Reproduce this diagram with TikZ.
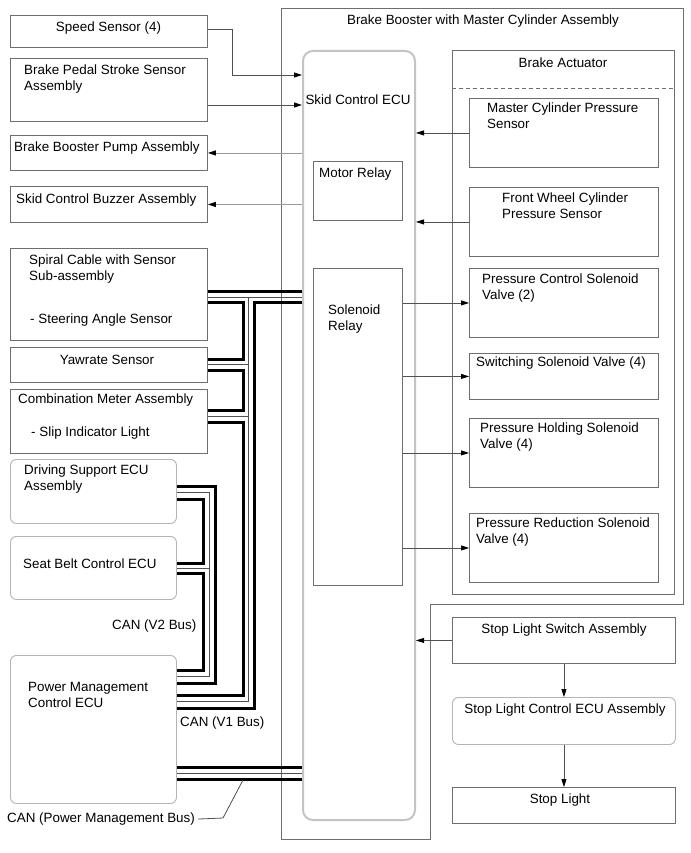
\documentclass[tikz,border=0pt]{standalone}
\usepackage{fontspec}
\setmainfont{Liberation Sans}
\usetikzlibrary{arrows.meta}
\definecolor{dg}{HTML}{6E6E6E}
\definecolor{lg}{HTML}{B4B4B4}
\definecolor{eg}{HTML}{C4C4C4}
\definecolor{al}{HTML}{505050}
\definecolor{al2}{HTML}{9A9A9A}
\definecolor{tl}{HTML}{505050}
\tikzset{
  box/.style={draw=dg, line width=0.9pt, rectangle, inner sep=0pt, anchor=north west},
  rbox/.style={box, draw=lg, rounded corners=6pt},
  ecubox/.style={box, draw=eg, line width=2pt, rounded corners=10pt},
  txt/.style={inner sep=0pt, anchor=base west, align=left, font=\fontsize{13.4}{16}\selectfont},
  ctxt/.style={txt, anchor=base, align=center},
  arr/.style={draw=al, line width=0.8pt, -{Triangle[length=8pt,width=5pt,color=black]}},
  arrl/.style={arr, draw=al2},
  busB/.style={draw=black, line width=3pt},
  busT/.style={draw=tl, line width=0.9pt},
}
\newcommand\bx[6]{\node[#1, minimum width=#4pt, minimum height=#5pt] (#6) at (#2,#3) {};}
\begin{document}
\begin{tikzpicture}[x=1pt, y=-1pt]
\useasboundingbox[fill=white] (0,0) rectangle (690,853);
% outer assembly outline
\draw[dg, line width=0.9pt] (281,8) -- (683,8) -- (683,604) -- (430,604) -- (430,839) -- (281,839) -- cycle;
% left boxes
\bx{box}{10}{15}{197}{32}{speed}
\bx{box}{10}{58}{197}{63}{bpss}
\bx{box}{10}{135}{197}{35}{pump}
\bx{box}{10}{186}{197}{36}{buzz}
\bx{box}{10}{248}{197}{92}{spiral}
\bx{box}{10}{347}{197}{35}{yaw}
\bx{box}{10}{389}{197}{64}{comb}
\bx{rbox}{10}{459}{166}{64}{ds}
\bx{rbox}{10}{536}{166}{63}{sb}
\bx{rbox}{10}{655}{166}{148}{pm}
% ECU
\bx{ecubox}{302}{50}{112}{769}{ecu}
\bx{box}{313}{161}{89}{59}{mrel}
\bx{box}{313}{268}{89}{317}{srel}
% actuator
\bx{box}{452}{50}{222}{544}{act}
\draw[dg, line width=0.8pt, dash pattern=on 4pt off 3pt] (act.west |- 0,88) -- (act.east |- 0,88);
\bx{box}{469}{98}{189}{69}{mcps}
\bx{box}{469}{187}{189}{69}{fwcps}
\bx{box}{469}{268}{189}{69}{pcsv}
\bx{box}{469}{353}{189}{46}{ssv}
\bx{box}{469}{418}{189}{69}{phsv}
\bx{box}{469}{513}{189}{69}{prsv}
% stop light chain
\bx{box}{452}{617}{223}{46}{slsa}
\bx{rbox}{452}{697}{223}{47}{slc}
\bx{box}{452}{787}{223}{36}{stop}
% texts (multi-line nodes: base = last line)
\node[ctxt] (t1) at (108.5,32) {Speed Sensor (4)};
\node[txt] (t2) at (24,91) {Brake Pedal Stroke Sensor\\Assembly};
\node[txt] (t3) at (14,152) {Brake Booster Pump Assembly};
\node[txt] (t4) at (16,203) {Skid Control Buzzer Assembly};
\node[txt] (t5) at (29,280.5) {Spiral Cable with Sensor\\Sub-assembly};
\node[txt] (t6) at (30,323.5) {- Steering Angle Sensor};
\node[ctxt] (t7) at (107,364.5) {Yawrate Sensor};
\node[txt] (t8) at (18,403.5) {Combination Meter Assembly};
\node[txt] (t9) at (31,436) {- Slip Indicator Light};
\node[txt] (t10) at (24,490.5) {Driving Support ECU\\Assembly};
\node[txt] (t11) at (23,568) {Seat Belt Control ECU};
\node[txt] (t12) at (112,629.5) {CAN (V2 Bus)};
\node[txt] (t13) at (28,707) {Power Management\\Control ECU};
\node[txt] (t14) at (180,726.5) {CAN (V1 Bus)};
\node[txt] (t15) at (7,822.5) {CAN (Power Management Bus)};
\node[ctxt] (t16) at (483,24.5) {Brake Booster with Master Cylinder Assembly};
\node[ctxt] (t17) at (563,68) {Brake Actuator};
\node[ctxt] (t18) at (358,105) {Skid Control ECU};
\node[txt] (t19) at (487,129) {Master Cylinder Pressure\\Sensor};
\node[txt] (t20) at (319,178) {Motor Relay};
\node[txt] (t21) at (502,218) {Front Wheel Cylinder\\Pressure Sensor};
\node[txt] (t22) at (482,299) {Pressure Control Solenoid\\Valve (2)};
\node[txt] (t23) at (328,330.5) {Solenoid\\Relay};
\node[txt] (t24) at (476,366) {Switching Solenoid Valve (4)};
\node[txt] (t25) at (480,448) {Pressure Holding Solenoid\\Valve (4)};
\node[txt] (t26) at (476,543) {Pressure Reduction Solenoid\\Valve (4)};
\node[ctxt] (t27) at (564,633) {Stop Light Switch Assembly};
\node[ctxt] (t28) at (565,713) {Stop Light Control ECU Assembly};
\node[ctxt] (t29) at (560,803) {Stop Light};
% arrows
\coordinate (cS) at (232,75);
\draw[arr] (speed.east |- 0,29.5) -| (cS) -- (ecu.west |- cS);
\draw[arr] (bpss.east |- 0,105) -- (ecu.west |- 0,105);
\draw[arrl] (ecu.west |- pump.east) -- (pump.east);
\draw[arrl] (ecu.west |- buzz.east) -- (buzz.east);
\draw[arr] (mcps.west) -- (ecu.east |- mcps.west);
\draw[arr] (fwcps.west) -- (ecu.east |- fwcps.west);
\draw[arr] (srel.east |- pcsv.west) -- (pcsv.west);
\draw[arr] (srel.east |- ssv.west) -- (ssv.west);
\draw[arr] (srel.east |- phsv.west) -- (phsv.west);
\draw[arr] (srel.east |- prsv.west) -- (prsv.west);
\draw[arr] (slsa.west) -- (ecu.east |- slsa.west);
\draw[arr] (slsa.south) -- (slc.north);
\draw[arr] (slc.south) -- (stop.north);
% CAN V1 bus
\draw[busB] (spiral.east |- 0,291) -- (ecu.west |- 0,291);
\draw[busT] (spiral.east |- 0,297) -- (ecu.west |- 0,297);
\draw[busB] (spiral.east |- 0,302) -- (243,302) -- (243,359) -- (yaw.east |- 0,359);
\draw[busT] (yaw.east |- 0,364.5) -- (248,364.5);
\draw[busB] (yaw.east |- 0,370) -- (243,370) -- (243,410) -- (comb.east |- 0,410);
\draw[busT] (comb.east |- 0,416) -- (248,416);
\draw[busB] (comb.east |- 0,422) -- (243,422) -- (243,695) -- (pm.east |- 0,695);
\draw[busT] (248,297) -- (248,701.5) -- (pm.east |- 0,701.5);
\draw[busB] (ecu.west |- 0,302) -- (254,302) -- (254,708) -- (pm.east |- 0,708);
% CAN V2 bus
\draw[busB] (ds.east |- 0,486) -- (215,486) -- (215,683) -- (pm.east |- 0,683);
\draw[busT] (ds.east |- 0,492.5) -- (209,492.5) -- (209,676.5) -- (pm.east |- 0,676.5);
\draw[busB] (ds.east |- 0,499) -- (203,499) -- (203,563) -- (sb.east |- 0,563);
\draw[busT] (sb.east |- 0,568) -- (209,568);
\draw[busB] (sb.east |- 0,573) -- (203,573) -- (203,670) -- (pm.east |- 0,670);
% CAN PM bus
\draw[busB] (pm.east |- 0,767) -- (ecu.west |- 0,767);
\draw[busT] (pm.east |- 0,773) -- (ecu.west |- 0,773);
\draw[busB] (pm.east |- 0,779) -- (ecu.west |- 0,779);
\coordinate (lead) at (243,780);
\draw[al, line width=0.8pt] (t15.east) ++(3,0) -- (223,818) -- (lead);
\end{tikzpicture}
\end{document}
